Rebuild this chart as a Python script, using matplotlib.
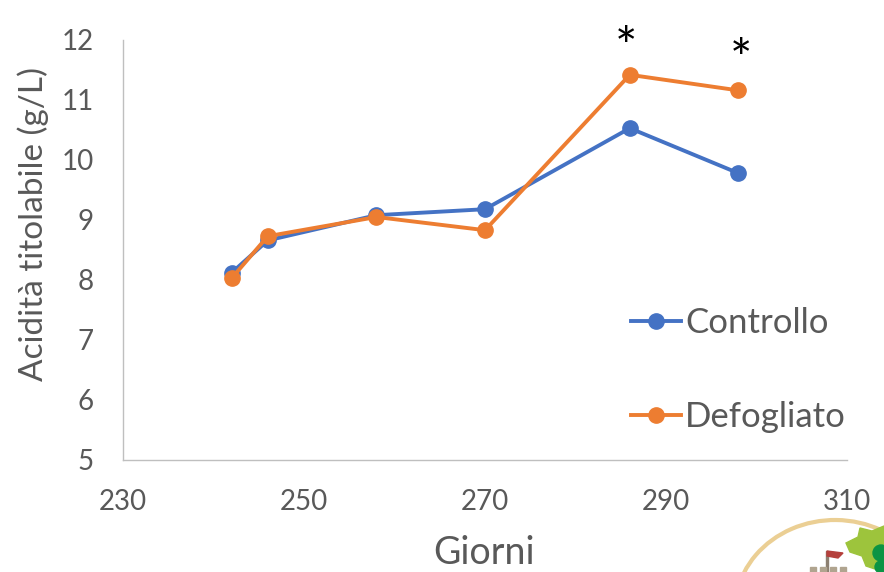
import matplotlib
matplotlib.use("Agg")
import matplotlib.pyplot as plt
from matplotlib.patches import Arc, Circle, Polygon, Rectangle

giorni = [242, 246, 258, 270, 286, 298]
controllo = [8.12, 8.66, 9.08, 9.18, 10.53, 9.78]
defogliato = [8.03, 8.73, 9.05, 8.83, 11.42, 11.16]
star_x = [285.6, 298.3]
star_y = [11.83, 11.62]
x_ticks = [230, 250, 270, 290, 310]
y_ticks = [5, 6, 7, 8, 9, 10, 11, 12]

plt.rcParams["font.family"] = ["Lato", "DejaVu Sans"]
grey = "#595959"

fig = plt.figure(figsize=(8.84, 5.72), dpi=100)
ax = fig.add_axes([123 / 884, 1 - 460 / 572, (847 - 123) / 884, (460 - 40) / 572])

ax.plot(giorni, controllo, color="#4472C4", linewidth=2.8, marker="o", markersize=11, label="Controllo", clip_on=False)
ax.plot(giorni, defogliato, color="#ED7D31", linewidth=2.8, marker="o", markersize=11, label="Defogliato", clip_on=False)

ax.set_xlim(230, 310)
ax.set_ylim(5, 12)
ax.set_xticks(x_ticks)
ax.set_yticks(y_ticks)
ax.tick_params(axis="x", length=0, labelsize=20, labelcolor=grey, pad=21)
ax.tick_params(axis="y", length=0, labelsize=20, labelcolor=grey, pad=21)
for side in ["top", "right"]:
    ax.spines[side].set_visible(False)
for side in ["left", "bottom"]:
    ax.spines[side].set_color("#BFBFBF")
    ax.spines[side].set_linewidth(1)

fig.text(484 / 884, 1 - 553 / 572, "Giorni", fontsize=27, color=grey, ha="center", va="center")
fig.text(33 / 884, 1 - 224 / 572, "Acidità titolabile (g/L)", fontsize=24, color=grey,
         rotation=90, ha="center", va="center")

for x, y in zip(star_x, star_y):
    ax.text(x, y, "*", fontsize=38, color="black", ha="center", va="center", clip_on=False)

# legend placed by hand, the two rows are far apart
ax.legend(loc="lower left", bbox_to_anchor=(0.677, 0.023), frameon=False, fontsize=25, labelcolor=grey,
          labelspacing=1.78, handlelength=1.45, handletextpad=0.12, borderpad=0)

# logo cut off in the bottom right corner, drawn in pixel coordinates
logo = fig.add_axes([0, 0, 1, 1], zorder=-1)
logo.set_xlim(0, 884)
logo.set_ylim(572, 0)
logo.axis("off")
logo.add_patch(Arc((835, 610), 200, 180, theta1=190, theta2=300, color="#EBCF94", linewidth=3))
logo.add_patch(Polygon([(846, 543), (858, 537), (860, 528), (872, 531), (884, 526), (884, 572),
                        (866, 566), (862, 556), (850, 552)], color="#9DC43C"))
logo.add_patch(Circle((881, 553), 8, color="#0B9444"))
logo.add_patch(Circle((881, 567), 6, color="#0B9444"))
logo.add_patch(Rectangle((826, 551), 1.5, 21, color="#8C7F70"))
logo.add_patch(Polygon([(827, 551), (843, 553), (838, 558), (827, 556)], color="#B5403C"))
for bx in [810, 820, 830, 840]:
    logo.add_patch(Rectangle((bx, 567), 6, 5, color="#B0A48F"))

fig.savefig("out.png", dpi=100)
